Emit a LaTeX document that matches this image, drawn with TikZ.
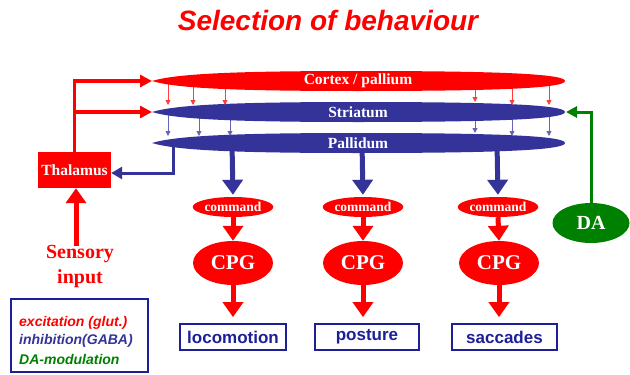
\documentclass[tikz,border=0pt]{standalone}
\usepackage{fontspec}
\setmainfont{Liberation Serif}
\setsansfont{Liberation Sans}
\usetikzlibrary{arrows.meta,shapes.geometric,calc}
\definecolor{cred}{RGB}{255,0,0}
\definecolor{cblue}{RGB}{51,51,153}
\definecolor{cnavy}{RGB}{30,30,150}
\definecolor{cgreen}{RGB}{0,128,0}
\definecolor{lred}{RGB}{255,60,60}
\definecolor{lblue}{RGB}{100,100,185}
\newcommand\lensshape[2]{%
  \fill[#2] (152,#1) .. controls (175,#1-7) and (230,#1-10) .. (358,#1-10)
    .. controls (500,#1-10) and (565,#1-7) .. (565,#1)
    .. controls (565,#1+7) and (500,#1+10) .. (358,#1+10)
    .. controls (230,#1+10) and (175,#1+7) .. (152,#1) -- cycle;}
\begin{document}
\begin{tikzpicture}[x=1pt,y=-1pt,
  redthick/.style={draw=cred, line width=5pt, -{Triangle[length=15pt,width=20pt]}},
  bluethick/.style={draw=cblue, line width=5pt, -{Triangle[length=15pt,width=20pt]}},
  feed/.style={draw=cred, line width=3.5pt, -{Triangle[length=12pt,width=12pt]}},
  bluemid/.style={draw=cblue, line width=3pt, -{Triangle[length=11pt,width=12pt]}},
  greenmid/.style={draw=cgreen, line width=3pt, -{Triangle[length=11pt,width=11pt]}},
  smallred/.style={draw=lred, line width=0.8pt, -{Triangle[length=5pt,width=5pt]}},
  smallblue/.style={draw=lblue, line width=0.8pt, -{Triangle[length=5pt,width=5pt]}},
  lenslabel/.style={text=white, font=\bfseries\fontsize{15.5}{18}\selectfont, inner sep=0pt},
  cmdnode/.style={ellipse, fill=cred, minimum width=68pt, minimum height=20pt, inner sep=0pt, text=white, font=\bfseries\fontsize{13.5}{16}\selectfont},
  cpgnode/.style={ellipse, fill=cred, minimum width=80pt, minimum height=44pt, inner sep=0pt, text=white, font=\bfseries\fontsize{21}{24}\selectfont},
  outbox/.style={draw=cnavy, line width=1.8pt, minimum height=26pt, inner sep=0pt, text=cnavy, font=\sffamily\bfseries\fontsize{17}{20}\selectfont},
  legtext/.style={anchor=west, inner sep=0pt, font=\sffamily\bfseries\itshape\fontsize{14}{16}\selectfont}
]
\useasboundingbox (0,0) rectangle (630,375);

\node[text=cred, font=\sffamily\bfseries\itshape\fontsize{28}{32}\selectfont] (title) at (328,20) {Selection of behaviour};

% columns
\node[cmdnode] (cmd1) at (233,207) {command};
\node[cmdnode] (cmd2) at (363,207) {command};
\node[cmdnode] (cmd3) at (498,207) {command};
\node[cpgnode] (cpg1) at (233,263) {CPG};
\node[cpgnode] (cpg2) at (363,263) {CPG};
\node[cpgnode] (cpg3) at (499,263) {CPG};
\node[outbox, minimum width=106pt] (loco) at (233,337) {locomotion};
\node[outbox, minimum width=104pt] (post) at (367,337) {posture};
\node[outbox, minimum width=105pt] (sacc) at (504.5,337) {saccades};

\node[rectangle, fill=cred, minimum width=73pt, minimum height=36pt, inner sep=0pt, text=white, font=\bfseries\fontsize{15.5}{18}\selectfont] (thal) at (74.5,170) {Thalamus};
\node[ellipse, fill=cgreen, minimum width=77pt, minimum height=40pt, inner sep=0pt, text=white, font=\bfseries\fontsize{20}{24}\selectfont] (da) at (591,223) {DA};
\node[text=cred, align=center, font=\bfseries\fontsize{20}{25}\selectfont, inner sep=0pt] (sens) at (80,267) {Sensory\\input};

% legend
\node[draw=cnavy, line width=1.8pt, minimum width=137pt, minimum height=73pt, inner sep=0pt] (legend) at (79.5,335.5) {};
\node[legtext, text=cred] (leg1) at (19,323) {excitation (glut.)};
\node[legtext, text=cblue] (leg2) at (19,341) {inhibition(GABA)};
\node[legtext, text=cgreen] (leg3) at (19,359) {DA-modulation};

% coordinates on the layers
\coordinate (cortexL) at (152,81);
\coordinate (striL) at (152,112);
\coordinate (striR) at (566,112);
\coordinate (pout1) at (232,143);
\coordinate (pout2) at (362,143);
\coordinate (pout3) at (497,143);
\coordinate (pthal) at (173,143);

% pallidum outputs (start hidden in the pallidum)
\draw[bluethick, shorten >=2pt] (pout1) -- (cmd1.north);
\draw[bluethick, shorten >=2pt] (pout2) -- (cmd2.north);
\draw[bluethick, shorten >=2pt] (pout3) -- (cmd3.north);
\draw[bluemid] (pthal) |- ($(thal.east)+(0,3)$);

% pallidum
\lensshape{143}{cblue}
\node[lenslabel] (pall) at (358,143) {Pallidum};

% striatum -> pallidum
\foreach \xx/\yy in {168/136, 199/136, 230/136, 475/133, 512/136, 549/136}
  \draw[smallblue] (\xx,112) -- (\xx,\yy);

% striatum
\lensshape{112}{cblue}
\node[lenslabel] (stri) at (358,112) {Striatum};

% cortex -> striatum
\foreach \xx/\yy in {168/105, 193/105, 225/105, 475/102, 512/105, 549/105}
  \draw[smallred] (\xx,81) -- (\xx,\yy);

% cortex
\lensshape{81}{cred}
\node[lenslabel] (cortex) at (358,81) {Cortex / pallium};

% thalamus feeds
\draw[feed] (thal.north) |- (cortexL);
\draw[feed] (thal.north |- striL) -- (striL);

% DA
\draw[greenmid] (da.north) |- (striR);

% sensory
\draw[redthick] (sens.north -| thal.south) ++(1.5,0) -- ($(thal.south)+(1.5,0)$);

% motor chain
\draw[redthick] (cmd1.south) -- (cpg1.north);
\draw[redthick] (cmd2.south) -- (cpg2.north);
\draw[redthick] (cmd3.south) -- (cpg3.north);
\draw[redthick, shorten >=6pt] (cpg1.south) -- (cpg1.south |- loco.north);
\draw[redthick, shorten >=6pt] (cpg2.south) -- (cpg2.south |- post.north);
\draw[redthick, shorten >=6pt] (cpg3.south) -- (cpg3.south |- sacc.north);
\end{tikzpicture}
\end{document}
